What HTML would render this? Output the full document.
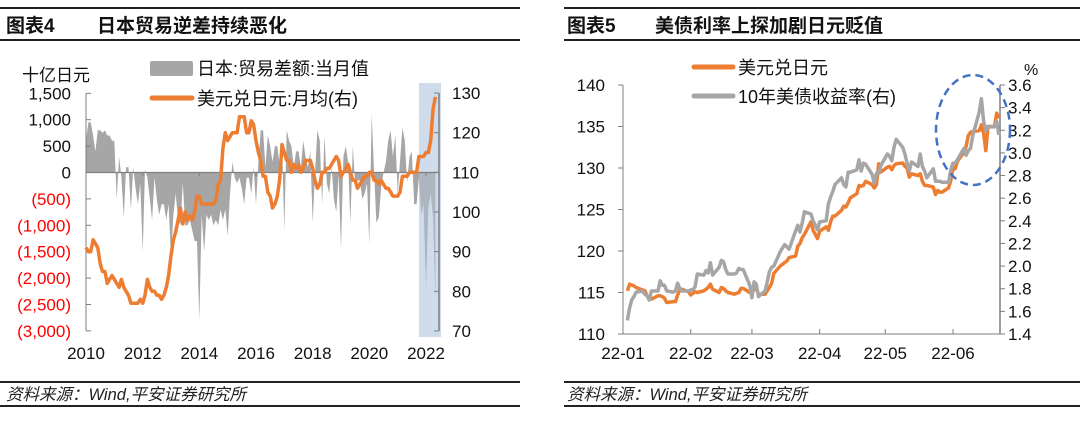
<!DOCTYPE html>
<html><head><meta charset="utf-8">
<style>
html,body{margin:0;padding:0;background:#fff;}
body{width:1080px;height:418px;overflow:hidden;font-family:"Liberation Sans","Noto Sans CJK SC",sans-serif;}
svg text{font-family:"Liberation Sans","Noto Sans CJK SC",sans-serif;}
</style></head>
<body>
<svg id="svg" width="1080" height="418" viewBox="0 0 1080 418" xmlns="http://www.w3.org/2000/svg">
  <g>
    <line x1="0" y1="8" x2="520" y2="8" stroke="#222" stroke-width="2"/>
    <text x="6" y="32" font-size="19" font-weight="bold" fill="#111">图表4</text>
    <text x="97" y="32" font-size="19" font-weight="bold" fill="#111">日本贸易逆差持续恶化</text>
    <line x1="0" y1="40" x2="520" y2="40" stroke="#222" stroke-width="2"/>
  </g>
  <g>
    <line x1="564" y1="8" x2="1080" y2="8" stroke="#222" stroke-width="2"/>
    <text x="567" y="32" font-size="19" font-weight="bold" fill="#111">图表5</text>
    <text x="655" y="32" font-size="19" font-weight="bold" fill="#111">美债利率上探加剧日元贬值</text>
    <line x1="564" y1="40" x2="1080" y2="40" stroke="#222" stroke-width="2"/>
  </g>
  <g>
    <line x1="0" y1="382" x2="520" y2="382" stroke="#222" stroke-width="2"/>
    <text x="6" y="400" font-size="16.5" font-style="italic" fill="#222">资料来源：Wind,平安证券研究所</text>
    <line x1="0" y1="406" x2="520" y2="406" stroke="#222" stroke-width="2"/>
  </g>
  <g>
    <line x1="564" y1="382" x2="1080" y2="382" stroke="#222" stroke-width="2"/>
    <text x="567" y="400" font-size="16.5" font-style="italic" fill="#222">资料来源：Wind,平安证券研究所</text>
    <line x1="564" y1="406" x2="1080" y2="406" stroke="#222" stroke-width="2"/>
  </g>
  <g id="left"></g>
  <g id="right"></g>
</svg>
<script>
// ===== Left chart data (monthly, 2010-01 .. 2022-05) =====
const tradeBalance = [
 600,950,950,700,400,800,800,750,800,700,700,600,
 600,-500,300,-100,-850,100,100,-700,100,-300,-600,-200,
 -1500,50,-100,-500,-900,-100,-500,-800,-600,-600,-900,-600,
 -1600,-800,-400,-900,-1000,-200,-1000,-1000,-900,-1100,-1300,-1300,
 -2800,-800,-1500,-800,-900,-800,-1000,-900,-1000,-700,-900,-700,
 -1200,-400,200,-100,-200,-100,-300,-600,-100,-100,-400,100,
 -600,200,800,800,100,700,500,200,500,500,150,600,
 -1100,800,600,500,100,400,400,100,600,300,100,400,
 -950,0,800,600,-600,700,-200,-400,100,-500,-750,-50,
 -1450,300,500,200,-950,500,-250,-150,-150,-500,-400,-200,
 -1350,1100,0,-950,-850,-300,0,200,600,800,300,700,
 -400,200,850,600,-200,300,400,-600,-600,-100,-800,-600,
 -2200,-650,-400,-850,-2400
];
const usdjpyMonthly = [
 91,90,90,93,92,91,87,85,85,82,83,84,
 83,82,81,83,81,80,79,77,77,77,77,78,
 77,79,83,81,80,80,79,79,78,79,81,84,
 89,93,95,98,101,97,100,98,99,98,100,104,
 104,102,102,102,102,102,102,103,107,108,116,120,
 118,119,120,120,120,124,124,124,120,120,123,122,
 118,115,113,109,109,105,104,101,102,104,108,117,
 115,113,113,110,112,111,112,110,111,113,113,113,
 111,108,106,107,110,110,111,111,112,113,114,113,
 109,110,111,112,110,108,108,106,107,108,109,109,
 110,110,108,108,107,108,107,106,106,105,104,104,
 104,105,109,109,109,110,110,110,110,114,114,114,
 115,115,118,126,129
];
const leftTicks = [1500,1000,500,0,-500,-1000,-1500,-2000,-2500,-3000];
const leftTickLabels = ["1,500","1,000","500","0","(500)","(1,000)","(1,500)","(2,000)","(2,500)","(3,000)"];
const rightTicks = [130,120,110,100,90,80,70];
const yearLabels = ["2010","2012","2014","2016","2018","2020","2022"];

// ===== Right chart data (business days, 2022-01-03 .. 2022-06-22) =====
const usdjpyDaily = [
 115.2,116.0,115.9,115.8,115.6, 115.3,115.2,114.6,114.2,114.2, 114.6,114.6,114.5,114.3,113.8, 113.9,113.9,114.7,115.3,115.4,
 115.1,114.7,114.9,115.1,115.0, 115.2,115.4,115.6,116.0,115.4, 115.0,115.6,115.5,115.2,115.0, 114.8,114.9,115.0,115.5,115.5,
 115.0,114.9,115.4,115.5,114.8, 114.8,115.2,115.6,116.1,117.3, 118.2,118.4,118.6,118.8,119.2, 119.4,120.6,120.9,121.6,122.0,
 123.5,122.5,122.0,121.5,122.4, 122.9,122.5,123.5,124.2,124.2, 124.9,125.4,125.3,125.8,126.4, 126.9,127.9,127.8,127.9,128.4,
 128.0,127.6,128.0,130.5,129.5, 130.1,130.2,129.8,130.3,130.5, 130.6,130.2,130.0,128.9,129.3, 129.1,129.3,128.4,127.9,127.9,
 127.7,126.8,127.3,127.1,127.1, 127.6,128.5,130.0,129.9,130.8, 131.9,132.6,133.9,134.3,134.4, 134.5,135.2,134.2,132.1,135.0,
 135.0,136.6,136.0
];
const ust10y = [
 1.52,1.63,1.70,1.73,1.77, 1.78,1.75,1.74,1.70,1.78, 1.78,1.87,1.83,1.83,1.78, 1.77,1.78,1.85,1.80,1.78,
 1.78,1.79,1.79,1.82,1.93, 1.92,1.96,1.94,2.03,1.92, 1.99,2.05,2.04,1.97,1.93, 1.93,1.94,1.98,1.97,1.97,
 1.83,1.72,1.86,1.84,1.73, 1.78,1.86,1.95,1.99,2.00, 2.13,2.16,2.19,2.17,2.15, 2.31,2.36,2.30,2.38,2.48,
 2.46,2.40,2.36,2.32,2.39, 2.40,2.55,2.61,2.66,2.72, 2.78,2.72,2.70,2.83,2.83, 2.85,2.94,2.84,2.91,2.90,
 2.81,2.73,2.82,2.82,2.89, 2.99,2.97,2.93,3.05,3.12, 3.05,2.99,2.91,2.84,2.92, 2.88,2.99,2.88,2.84,2.78,
 2.86,2.75,2.75,2.75,2.74, 2.74,2.85,2.91,2.91,2.94, 3.04,2.98,3.02,3.04,3.15, 3.36,3.48,3.28,3.20,3.23,
 3.23,3.28,3.16
];
const r2LeftTicks = [140,135,130,125,120,115,110];
const r2RightTicks = [3.6,3.4,3.2,3.0,2.8,2.6,2.4,2.2,2.0,1.8,1.6,1.4];
const monthLabels = ["22-01","22-02","22-03","22-04","22-05","22-06"];

const NS="http://www.w3.org/2000/svg";
function mk(tag, attrs, parent, txt){
  const e=document.createElementNS(NS,tag);
  for(const k in attrs) e.setAttribute(k,attrs[k]);
  if(txt!==undefined) e.textContent=txt;
  parent.appendChild(e); return e;
}
const FS=17;

// ----- Left chart -----
(function(){
  const g=document.getElementById('left');
  const xL=i=>86+i*(340/144);
  const yL=v=>172.5-v/500*26.4;
  const yR=v=>331-(v-70)*(238/60);
  const sh=mk('rect',{x:419,y:83,width:22,height:254,fill:'#dce6f2'},g);
  
  
  let d='M'+xL(0)+','+yL(0);
  tradeBalance.forEach((v,i)=>{d+=' L'+xL(i).toFixed(1)+','+yL(v).toFixed(1);});
  d+=' L'+xL(tradeBalance.length-1)+','+yL(0)+' Z';
  const ar=mk('path',{d:d,fill:'#a6a6a6',stroke:'none'},g);
  
  
  const sh2=mk('rect',{x:419,y:83,width:22,height:254,fill:'#b8cce4',opacity:0.4},g);
  
  
  const zl=mk('line',{x1:86,y1:yL(0),x2:439,y2:yL(0),stroke:'#7f7f7f','stroke-width':1.2},g);
  
  
  yearLabels.forEach((t,k)=>{
    const x=xL(k*24);
    if(k>0) mk('line',{x1:x,y1:yL(0),x2:x,y2:yL(0)+4,stroke:'#7f7f7f'},g);
    const tx=mk('text',{x:x,y:359,'font-size':FS,'text-anchor':'middle',fill:'#111'},g,t);
    
    
  });
  const la=mk('line',{x1:86,y1:yL(1500),x2:86,y2:yL(-3000),stroke:'#7f7f7f'},g);
  
  
  leftTicks.forEach((v,k)=>{
    mk('line',{x1:86,y1:yL(v),x2:91,y2:yL(v),stroke:'#7f7f7f'},g);
    const tx=mk('text',{x:71,y:yL(v)+6,'font-size':FS,'text-anchor':'end',fill:v<0?'#ff0000':'#111'},g,leftTickLabels[k]);
    
    
  });
  const ra=mk('line',{x1:439,y1:yR(130),x2:439,y2:yR(70),stroke:'#7f7f7f','stroke-width':1.5},g);
  
  
  rightTicks.forEach(v=>{
    mk('line',{x1:434,y1:yR(v),x2:439,y2:yR(v),stroke:'#7f7f7f'},g);
    const tx=mk('text',{x:452,y:yR(v)+6,'font-size':FS,fill:'#111'},g,String(v));
    
    
  });
  const pts=usdjpyMonthly.map((v,i)=>xL(i).toFixed(1)+','+yR(v).toFixed(1)).join(' ');
  const ln=mk('polyline',{points:pts,fill:'none',stroke:'#ed7d31','stroke-width':3.5,'stroke-linejoin':'round'},g);
  
  
  const u=mk('text',{x:22,y:81,'font-size':FS,fill:'#111'},g,'十亿日元');
  
  
  const lg1=mk('g',{},g);
  
  
  mk('rect',{x:150,y:61,width:43,height:15,fill:'#a6a6a6',rx:2},lg1);
  mk('text',{x:197,y:75,'font-size':18,fill:'#111'},lg1,'日本:贸易差额:当月值');
  const lg2=mk('g',{},g);
  
  
  mk('line',{x1:152,y1:98,x2:192,y2:98,stroke:'#ed7d31','stroke-width':5,'stroke-linecap':'round'},lg2);
  mk('text',{x:197,y:105,'font-size':18,fill:'#111'},lg2,'美元兑日元:月均(右)');
})();

// ----- Right chart -----
(function(){
  const g=document.getElementById('right');
  const dayOffs=[];
  let dt=new Date(Date.UTC(2022,0,3));
  const base=Date.UTC(2022,0,1);
  while(dayOffs.length<usdjpyDaily.length){
    const w=dt.getUTCDay();
    if(w!==0&&w!==6) dayOffs.push((dt-base)/86400000);
    dt=new Date(dt.getTime()+86400000);
  }
  const monthStarts=[0,31,59,90,120,151];
  const xD=d=>623+d*(330/151);
  const yA=v=>334-(v-110)*(249/30);
  const yB=v=>334-(v-1.4)*(249/2.2);
  const la=mk('line',{x1:623,y1:yA(140),x2:623,y2:yA(110),stroke:'#7f7f7f'},g);
  
  
  r2LeftTicks.forEach(v=>{
    mk('line',{x1:618,y1:yA(v),x2:623,y2:yA(v),stroke:'#7f7f7f'},g);
    const tx=mk('text',{x:605,y:yA(v)+6,'font-size':FS,'text-anchor':'end',fill:'#111'},g,String(v));
    
    
  });
  const ra=mk('line',{x1:1000,y1:yB(3.6),x2:1000,y2:yB(1.4),stroke:'#7f7f7f','stroke-width':1.5},g);
  
  
  r2RightTicks.forEach(v=>{
    mk('line',{x1:1000,y1:yB(v),x2:1005,y2:yB(v),stroke:'#7f7f7f'},g);
    const tx=mk('text',{x:1008,y:yB(v)+6,'font-size':FS,fill:'#111'},g,v.toFixed(1));
    
    
  });
  const xa=mk('line',{x1:623,y1:334,x2:1000,y2:334,stroke:'#7f7f7f'},g);
  
  
  monthLabels.forEach((t,k)=>{
    const x=xD(monthStarts[k]);
    mk('line',{x1:x,y1:329,x2:x,y2:334,stroke:'#7f7f7f'},g);
    const tx=mk('text',{x:x,y:359,'font-size':FS,'text-anchor':'middle',fill:'#111'},g,t);
    
    
  });
  const p1=usdjpyDaily.map((v,i)=>xD(dayOffs[i]).toFixed(1)+','+yA(v).toFixed(1)).join(' ');
  const l1=mk('polyline',{points:p1,fill:'none',stroke:'#ed7d31','stroke-width':3.5,'stroke-linejoin':'round'},g);
  
  
  const p2=ust10y.map((v,i)=>xD(dayOffs[i]).toFixed(1)+','+yB(v).toFixed(1)).join(' ');
  const l2=mk('polyline',{points:p2,fill:'none',stroke:'#a6a6a6','stroke-width':3.5,'stroke-linejoin':'round'},g);
  
  
  const el=mk('ellipse',{cx:973,cy:130,rx:37,ry:55,fill:'none',stroke:'#4472c4','stroke-width':2.5,'stroke-dasharray':'8,5'},g);
  
  
  const pc=mk('text',{x:1024,y:75,'font-size':16,fill:'#111'},g,'%');
  
  
  const lg1=mk('g',{},g);
  
  
  mk('line',{x1:694,y1:67,x2:733,y2:67,stroke:'#ed7d31','stroke-width':5,'stroke-linecap':'round'},lg1);
  mk('text',{x:738,y:74,'font-size':18,fill:'#111'},lg1,'美元兑日元');
  const lg2=mk('g',{},g);
  
  
  mk('line',{x1:694,y1:96,x2:733,y2:96,stroke:'#a6a6a6','stroke-width':5,'stroke-linecap':'round'},lg2);
  mk('text',{x:738,y:103,'font-size':18,fill:'#111'},lg2,'10年美债收益率(右)');
})();
</script>
</body></html>
